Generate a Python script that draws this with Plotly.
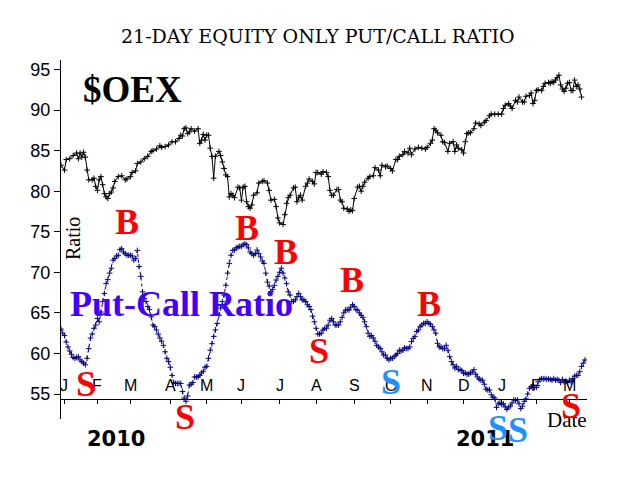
import plotly.graph_objects as go

# ---- data (trading-day index, 0 = last trading days of Dec 2009) ----
oex_day = [0, 2, 3, 5, 7, 9, 10, 11, 12, 13, 14, 15, 16, 18, 19, 20, 21, 22, 23, 24,
           25, 26, 27, 28, 29, 30, 31, 33, 35, 37, 38, 40, 41, 43, 44, 46, 48, 50, 52, 53,
           55, 57, 58, 60, 62, 64, 66, 68, 69, 70, 71, 72, 73, 74, 75, 77, 79, 80, 81, 82,
           83, 84, 85, 86, 87, 88, 89, 91, 92, 93, 94, 95, 96, 97, 98, 99, 100, 102, 103, 104,
           105, 106, 107, 108, 109, 110, 111, 113, 114, 116, 117, 119, 120, 121, 123, 124, 125, 126, 128, 129,
           130, 131, 132, 134, 135, 136, 137, 138, 139, 141, 142, 143, 145, 146, 147, 148, 150, 151, 153, 154,
           155, 156, 157, 159, 160, 161, 162, 163, 165, 166, 167, 168, 169, 171, 172, 173, 174, 175, 177, 178,
           180, 181, 183, 184, 185, 187, 188, 190, 191, 193, 194, 195, 197, 198, 200, 201, 202, 204, 206, 208,
           210, 211, 213, 214, 215, 216, 217, 219, 220, 221, 223, 224, 226, 227, 228, 229, 231, 232, 233, 234,
           235, 236, 238, 239, 241, 242, 244, 245, 247, 248, 250, 252, 254, 255, 256, 258, 259, 260, 262, 263,
           264, 266, 267, 268, 270, 271, 272, 273, 274, 275, 277, 278, 279, 281, 282, 283, 284, 285, 286, 287,
           288, 289, 290, 291, 292, 293, 294, 295, 296, 297, 298, 299, 300]
oex_val = [83.2, 82.6, 83.9, 84.0, 84.4, 84.7, 84.0, 84.7, 84.2, 84.8, 84.2, 82.6, 81.4, 81.4, 81.6, 80.6, 80.1, 81.4, 81.8, 80.8,
           79.7, 79.3, 79.1, 79.7, 79.9, 80.4, 81.2, 81.8, 81.9, 81.4, 81.5, 81.8, 82.3, 82.5, 83.4, 83.6, 84.0, 84.3, 84.9, 85.0,
           85.2, 85.6, 85.4, 85.5, 85.7, 86.1, 86.1, 86.5, 86.9, 86.8, 87.7, 87.8, 87.1, 87.3, 87.7, 87.4, 87.7, 85.9, 86.3, 87.0,
           86.3, 86.9, 86.9, 85.3, 84.3, 81.6, 84.3, 84.9, 84.4, 83.6, 82.8, 82.0, 81.8, 79.3, 79.7, 79.5, 79.2, 80.5, 80.4, 78.9,
           80.5, 80.6, 78.7, 78.1, 77.9, 78.3, 79.5, 79.8, 81.0, 81.2, 81.3, 81.0, 80.1, 78.9, 79.0, 78.1, 76.7, 76.1, 75.9, 77.1,
           78.5, 79.2, 79.5, 80.4, 80.5, 78.7, 79.2, 79.5, 78.9, 80.6, 81.0, 81.5, 81.2, 80.9, 82.3, 82.3, 82.1, 82.4, 82.3, 81.8,
           80.1, 79.5, 79.5, 80.2, 80.2, 78.9, 78.7, 77.9, 77.8, 77.5, 77.7, 77.6, 79.1, 80.5, 80.6, 80.0, 80.6, 81.1, 81.6, 81.8,
           81.9, 82.9, 82.6, 81.9, 83.2, 83.0, 83.1, 82.8, 82.5, 83.9, 83.9, 84.3, 84.5, 84.9, 84.7, 85.3, 84.5, 85.2, 85.4, 85.3,
           85.2, 85.4, 85.9, 86.3, 87.7, 87.5, 87.2, 86.9, 86.1, 86.0, 84.9, 85.9, 86.1, 84.9, 85.7, 85.3, 85.1, 84.7, 86.1, 87.1,
           87.2, 87.2, 87.7, 88.4, 88.3, 88.1, 88.5, 88.7, 89.3, 89.5, 89.5, 89.5, 89.5, 90.2, 90.6, 90.8, 90.5, 90.2, 91.2, 91.0,
           91.6, 91.0, 91.0, 91.7, 91.8, 92.1, 90.8, 91.2, 92.4, 92.5, 92.4, 92.9, 93.3, 93.4, 93.3, 93.5, 93.4, 93.7, 94.0, 94.3,
           93.1, 92.6, 92.3, 92.7, 93.3, 93.4, 92.4, 92.4, 93.7, 92.9, 93.1, 92.6, 91.6]

pc_val = [63.0, 62.5, 62.2, 61.4, 60.8, 60.3, 59.9, 59.5, 59.4, 59.5,
          59.6, 59.2, 59.0, 58.8, 58.6, 59.4, 60.6, 61.9, 62.4, 63.1,
          63.5, 64.3, 63.9, 65.1, 66.4, 67.4, 68.6, 69.1, 69.9, 70.5,
          71.5, 71.7, 72.0, 72.1, 72.8, 72.9, 72.5, 72.3, 72.1, 72.1,
          72.1, 72.0, 71.5, 71.7, 72.7, 70.7, 69.5, 67.6, 66.8, 66.4,
          65.8, 65.4, 64.5, 63.5, 63.3, 62.9, 62.4, 61.9, 61.5, 61.0,
          60.2, 59.4, 59.0, 58.3, 57.3, 56.4, 56.3, 56.3, 56.3, 56.3,
          55.3, 54.5, 54.1, 54.75, 56.1, 56.2, 56.4, 57.1, 57.1, 57.1,
          57.3, 57.6, 57.8, 58.3, 58.4, 59.4, 60.4, 61.2, 62.1, 62.9,
          63.7, 64.7, 65.6, 66.4, 67.2, 68.4, 69.9, 71.1, 72.1, 72.7,
          72.75, 73.0, 73.1, 73.2, 73.2, 73.4, 73.5, 73.4, 73.0, 72.5,
          72.3, 72.1, 72.3, 72.75, 72.3, 71.9, 71.4, 71.1, 69.9, 68.8,
          68.3, 67.6, 67.9, 68.4, 69.05, 69.5, 70.0, 70.5, 69.9, 69.3,
          68.6, 67.6, 67.2, 66.4, 66.4, 66.6, 67.0, 67.4, 67.0, 66.6,
          66.6, 66.4, 66.0, 65.8, 65.4, 64.6, 63.9, 63.1, 62.4, 62.4,
          62.5, 62.9, 63.1, 63.1, 63.5, 64.1, 64.3, 63.9, 63.5, 63.5,
          63.5, 63.9, 64.45, 65.0, 65.35, 65.4, 65.35, 65.7, 66.0, 65.8,
          65.4, 65.35, 65.0, 64.7, 64.45, 63.9, 63.3, 62.5, 62.1, 62.2,
          61.9, 61.5, 61.0, 60.8, 60.6, 60.2, 59.8, 59.8, 59.4, 59.2,
          59.4, 59.4, 59.6, 59.8, 60.0, 60.4, 60.3, 60.4, 60.7, 60.6,
          60.6, 60.8, 61.45, 61.85, 62.1, 62.7, 62.9, 63.3, 63.5, 63.7,
          63.7, 63.9, 63.7, 63.6, 63.3, 62.9, 62.5, 61.25, 60.8, 60.8,
          60.6, 60.6, 61.0, 60.4, 59.6, 59.0, 58.6, 58.2, 58.4, 58.0,
          58.0, 57.9, 57.55, 57.6, 57.45, 57.45, 57.6, 57.7, 58.0, 57.45,
          57.1, 56.85, 56.7, 56.7, 56.2, 55.6, 55.5, 55.5, 54.9, 54.6,
          54.5, 53.35, 53.8, 53.9, 53.7, 53.8, 53.4, 53.1, 53.4, 53.5,
          53.9, 54.3, 54.2, 54.3, 53.8, 53.2, 53.5, 54.1, 54.4, 55.0,
          55.7, 55.9, 56.1, 55.8, 55.8, 56.5, 56.8, 56.9, 56.85, 56.9,
          56.8, 56.85, 56.8, 56.7, 56.9, 56.7, 56.8, 56.7, 56.4, 56.8,
          56.5, 56.6, 56.4, 56.7, 56.5, 56.9, 57.2, 57.3, 57.3, 57.75,
          58.4, 58.8, 59.2]
pc_day = list(range(len(pc_val)))

month_day = [2, 21, 40, 63, 84, 104, 126, 147, 169, 190, 211, 232, 254, 274, 293]
month_lbl = ["J", "F", "M", "A", "M", "J", "J", "A", "S", "O", "N", "D", "J", "F", "M"]
y_ticks = [55, 60, 65, 70, 75, 80, 85, 90, 95]

# buy/sell signal labels: (text, colour, screen-pixel position)
signals = [("B", "#ff0000", 127, 222), ("B", "#ff0000", 247, 228), ("B", "#ff0000", 286, 252),
           ("B", "#ff0000", 352, 280), ("B", "#ff0000", 429, 304),
           ("S", "#ff0000", 86, 384), ("S", "#ff0000", 185, 417), ("S", "#ff0000", 319, 351),
           ("S", "#1e90ff", 391, 382), ("S", "#1e90ff", 498, 428), ("S", "#1e90ff", 518, 430),
           ("S", "#ff0000", 571, 406)]

# ---- layout geometry (page body has an 8px margin) ----
OFF = 8
W, H = 640 - OFF, 480 - OFF
PL, PT, PW, PH = 61, 60, 526, 359          # plot area in screen pixels
L, T = PL - OFF, PT - OFF
R, B = W - L - PW, H - T - PH
DAY_PX = 1.735
VAL_PX = 8.1125


def px2paper(px, py):
    return (px - PL) / PW, (PT + PH - py) / PH


fig = go.Figure()
fig.add_trace(go.Scatter(x=oex_day, y=oex_val, mode="lines+markers",
                         line=dict(color="black", width=1),
                         marker=dict(symbol="cross-thin", size=4, line=dict(width=1, color="black")),
                         showlegend=False, hoverinfo="skip"))
fig.add_trace(go.Scatter(x=pc_day, y=pc_val, mode="lines+markers",
                         line=dict(color="#000080", width=1, dash="dot"),
                         marker=dict(symbol="cross-thin", size=4, line=dict(width=1, color="#000080")),
                         showlegend=False, hoverinfo="skip"))

ann = []


def add_text(text, px, py, size, color="black", family="Liberation Serif", bold=False, angle=0):
    xp, yp = px2paper(px, py)
    t = f"<b>{text}</b>" if bold else text
    ann.append(dict(text=t, x=xp, y=yp, xref="paper", yref="paper", showarrow=False,
                    xanchor="center", yanchor="middle", textangle=angle,
                    font=dict(family=family, size=size, color=color)))


add_text("21-DAY EQUITY ONLY PUT/CALL RATIO", 318, 36, 19, family="DejaVu Serif")
add_text("$OEX", 132, 90, 37, bold=True)
add_text("Put-Call Ratio", 181, 304, 36, color="#4400ff", bold=True)
add_text("Ratio", 73, 239, 20, angle=-90)
add_text("2010", 116, 439, 21, family="DejaVu Sans", bold=True)
add_text("2011", 485, 439, 21, family="DejaVu Sans", bold=True)
add_text("Date", 567, 420, 21)

# month labels sit just above the axis line
_, month_y = px2paper(0, 385.5)
for d, lbl in zip(month_day, month_lbl):
    ann.append(dict(text=lbl, x=d, y=month_y, xref="x", yref="paper", showarrow=False,
                    xanchor="center", yanchor="middle",
                    font=dict(family="Liberation Sans", size=16, color="black")))

for txt, col, px, py in signals:
    add_text(txt, px, py, 36, color=col, bold=True)

fig.update_layout(
    width=W, height=H,
    margin=dict(l=L, r=R, t=T, b=B),
    paper_bgcolor="white", plot_bgcolor="white",
    annotations=ann,
    xaxis=dict(range=[0, PW / DAY_PX], anchor="free", position=(PT + PH - 399.3) / PH,
               tickmode="array", tickvals=month_day, ticktext=month_lbl,
               ticks="outside", ticklen=4, tickcolor="black",
               showticklabels=False,
               showline=True, linecolor="black", linewidth=1,
               showgrid=False, zeroline=False),
    yaxis=dict(range=[55 - 25 / VAL_PX, 55 + 334 / VAL_PX],
               tickmode="array", tickvals=y_ticks,
               ticks="outside", ticklen=6, tickcolor="black",
               tickfont=dict(family="Liberation Sans", size=18, color="black"),
               showline=True, linecolor="black", linewidth=1,
               showgrid=False, zeroline=False),
)

fig.write_html("out.html")
